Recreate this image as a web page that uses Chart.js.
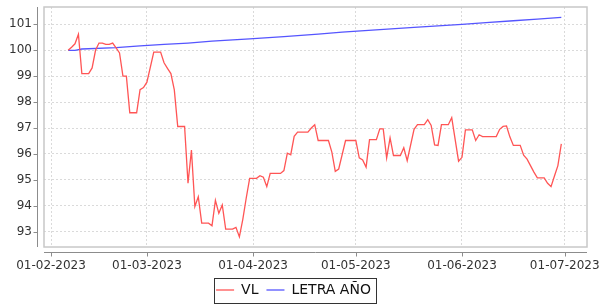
<!DOCTYPE html>
<html>
<head>
<meta charset="utf-8">
<script src="https://cdn.jsdelivr.net/npm/chart.js@4.4.0/dist/chart.umd.min.js"></script>
<style>
  html, body { margin: 0; padding: 0; background: #fff; }
</style>
</head>
<body>
<canvas id="navChart" width="601" height="305"></canvas>
<script>
// VL series: vertices (weekend values repeat)
const vlDates = [
  '2023-02-06', '2023-02-07', '2023-02-08', '2023-02-09', '2023-02-10', '2023-02-12', '2023-02-13',
  '2023-02-14', '2023-02-15', '2023-02-16', '2023-02-17', '2023-02-18', '2023-02-19', '2023-02-20',
  '2023-02-21', '2023-02-22', '2023-02-23', '2023-02-24', '2023-02-26', '2023-02-27', '2023-02-28',
  '2023-03-01', '2023-03-03', '2023-03-05', '2023-03-06', '2023-03-07', '2023-03-08', '2023-03-09',
  '2023-03-10', '2023-03-12', '2023-03-13', '2023-03-14', '2023-03-15', '2023-03-16', '2023-03-17',
  '2023-03-19', '2023-03-20', '2023-03-21', '2023-03-22', '2023-03-23', '2023-03-24', '2023-03-26',
  '2023-03-27', '2023-03-28', '2023-03-29', '2023-03-30', '2023-03-31', '2023-04-02', '2023-04-03',
  '2023-04-04', '2023-04-05', '2023-04-06', '2023-04-09', '2023-04-10', '2023-04-11', '2023-04-12',
  '2023-04-13', '2023-04-14', '2023-04-17', '2023-04-18', '2023-04-19', '2023-04-20', '2023-04-23',
  '2023-04-24', '2023-04-25', '2023-04-26', '2023-04-28', '2023-05-01', '2023-05-02', '2023-05-03',
  '2023-05-04', '2023-05-05', '2023-05-07', '2023-05-08', '2023-05-09', '2023-05-10', '2023-05-11',
  '2023-05-12', '2023-05-14', '2023-05-15', '2023-05-16', '2023-05-18', '2023-05-19', '2023-05-21',
  '2023-05-22', '2023-05-23', '2023-05-24', '2023-05-25', '2023-05-26', '2023-05-28', '2023-05-29',
  '2023-05-31', '2023-06-01', '2023-06-02', '2023-06-04', '2023-06-05', '2023-06-06', '2023-06-07',
  '2023-06-11', '2023-06-12', '2023-06-13', '2023-06-14', '2023-06-15', '2023-06-16', '2023-06-18',
  '2023-06-19', '2023-06-20', '2023-06-21', '2023-06-22', '2023-06-23', '2023-06-25', '2023-06-26',
  '2023-06-27', '2023-06-28', '2023-06-29', '2023-06-30'
];
const vlValues = [
  100.00, 100.12, 100.25, 100.62, 99.10, 99.10, 99.32,
  100.00, 100.28, 100.28, 100.23, 100.23, 100.28, 100.09,
  99.90, 99.00, 99.00, 97.59, 97.59, 98.48, 98.56,
  98.77, 99.93, 99.93, 99.52, 99.30, 99.10, 98.47,
  97.06, 97.06, 94.87, 96.15, 93.97, 94.35, 93.33,
  93.33, 93.23, 94.21, 93.71, 94.03, 93.10, 93.10,
  93.17, 92.80, 93.48, 94.30, 95.06, 95.06, 95.16,
  95.10, 94.74, 95.25, 95.25, 95.36, 96.03, 95.97,
  96.68, 96.84, 96.84, 97.00, 97.13, 96.52, 96.52,
  96.07, 95.33, 95.42, 96.52, 96.52, 95.85, 95.77,
  95.49, 96.55, 96.55, 96.97, 96.97, 95.85, 96.62,
  95.94, 95.94, 96.24, 95.74, 96.95, 97.13, 97.13,
  97.32, 97.10, 96.35, 96.33, 97.13, 97.13, 97.40,
  95.72, 95.87, 96.93, 96.93, 96.52, 96.74, 96.67,
  96.67, 96.95, 97.06, 97.08, 96.65, 96.33, 96.33,
  95.95, 95.80, 95.55, 95.30, 95.08, 95.08, 94.87,
  94.74, 95.15, 95.55, 96.39
];

// LETRA AÑO series
const letraDates = [
  '2023-02-06', '2023-02-08', '2023-02-10', '2023-02-20', '2023-02-27', '2023-03-06', '2023-03-13',
  '2023-03-20', '2023-03-31', '2023-04-10', '2023-04-20', '2023-04-27', '2023-05-08', '2023-05-18',
  '2023-06-01', '2023-06-08', '2023-06-16', '2023-06-23', '2023-06-30'
];
const letraValues = [
  100.00, 100.00, 100.05, 100.10, 100.17, 100.23, 100.28,
  100.35, 100.44, 100.53, 100.62, 100.70, 100.80, 100.88,
  101.00, 101.07, 101.14, 101.20, 101.27
];

const xTickDates = ['2023-02-01', '2023-03-01', '2023-04-01', '2023-05-01', '2023-06-01', '2023-07-01'];
const yTickValues = [93, 94, 95, 96, 97, 98, 99, 100, 101];

const DAY = 864e5;
function toDay(s) {
  const p = s.split('-').map(Number);
  return Date.UTC(p[0], p[1] - 1, p[2]) / DAY;
}
function fmtDay(v) {
  const d = new Date(Math.round(v) * DAY);
  const pad = n => String(n).padStart(2, '0');
  return pad(d.getUTCDate()) + '-' + pad(d.getUTCMonth() + 1) + '-' + d.getUTCFullYear();
}
const toPoints = (dates, values) => dates.map((s, i) => ({ x: toDay(s), y: values[i] }));

Chart.defaults.font.family = '"DejaVu Sans", sans-serif';
Chart.defaults.font.size = 12;

// plot outline, offset axis lines, tick marks and the legend frame
const frame = {
  id: 'frame',
  afterDraw(chart) {
    const ctx = chart.ctx;
    const a = chart.chartArea;
    const xs = chart.scales.x, ys = chart.scales.y;
    ctx.save();
    ctx.strokeStyle = '#c8c8c8';
    ctx.lineWidth = 1.5;
    ctx.strokeRect(a.left, a.top, a.right - a.left, a.bottom - a.top);

    ctx.strokeStyle = '#8c8c8c';
    ctx.lineWidth = 1;
    const axX = a.left - 6.5, axY = a.bottom + 5.5;
    ctx.beginPath();
    ctx.moveTo(axX, a.top); ctx.lineTo(axX, a.bottom);
    ys.ticks.forEach(t => {
      const py = Math.round(ys.getPixelForValue(t.value)) + 0.5;
      ctx.moveTo(axX, py); ctx.lineTo(axX - 4, py);
    });
    ctx.moveTo(a.left, axY); ctx.lineTo(a.right, axY);
    xs.ticks.forEach(t => {
      const px = Math.round(xs.getPixelForValue(t.value)) + 0.5;
      ctx.moveTo(px, axY); ctx.lineTo(px, axY + 4);
    });
    ctx.stroke();

    const boxes = chart.legend.legendHitBoxes;
    if (boxes && boxes.length) {
      const l = Math.min(...boxes.map(b => b.left)) - 2;
      const r = Math.max(...boxes.map(b => b.left + b.width)) + 5;
      const t = Math.min(...boxes.map(b => b.top)) - 5;
      const btm = Math.max(...boxes.map(b => b.top + b.height)) + 6;
      ctx.strokeStyle = '#333';
      ctx.lineWidth = 1;
      ctx.strokeRect(Math.round(l) + 0.5, Math.round(t) + 0.5, Math.round(r - l), Math.round(btm - t));
    }
    ctx.restore();
  }
};

const gridStyle = {
  color: '#dadada',
  lineWidth: 1,
  drawTicks: true,
  tickColor: 'rgba(0,0,0,0)',
  tickLength: 12
};

new Chart(document.getElementById('navChart').getContext('2d'), {
  type: 'line',
  data: {
    datasets: [
      {
        label: 'VL',
        data: toPoints(vlDates, vlValues),
        borderColor: '#ff5555',
        backgroundColor: '#ff5555',
        borderWidth: 1.3,
        pointRadius: 0,
        pointHoverRadius: 0,
        tension: 0
      },
      {
        label: 'LETRA AÑO',
        data: toPoints(letraDates, letraValues),
        borderColor: '#5555ff',
        backgroundColor: '#5555ff',
        borderWidth: 1.3,
        pointRadius: 0,
        pointHoverRadius: 0,
        tension: 0
      }
    ]
  },
  options: {
    responsive: false,
    animation: false,
    layout: { padding: { left: 0, right: 14, top: 7, bottom: -2 } },
    scales: {
      x: {
        type: 'linear',
        min: toDay('2023-02-01') - 2.05,
        max: toDay('2023-02-01') + 156.5,
        afterBuildTicks: s => { s.ticks = xTickDates.map(d => ({ value: toDay(d) })); },
        afterFit: s => { s.height = 28; },
        grid: Object.assign({}, gridStyle, { tickLength: 13 }),
        border: { display: false, dash: [2, 2] },
        ticks: {
          color: '#333',
          padding: 0,
          maxRotation: 0,
          autoSkip: false,
          font: { lineHeight: 1 },
          callback: v => fmtDay(v)
        }
      },
      y: {
        min: 92.41,
        max: 101.67,
        afterBuildTicks: s => { s.ticks = yTickValues.map(v => ({ value: v })); },
        afterFit: s => { s.width = 44; },
        grid: gridStyle,
        border: { display: false, dash: [2, 2] },
        ticks: { color: '#333', padding: 0, font: { lineHeight: 1 } }
      }
    },
    plugins: {
      tooltip: { enabled: false },
      legend: {
        position: 'bottom',
        labels: {
          usePointStyle: true,
          pointStyle: 'line',
          pointStyleWidth: 18,
          color: '#111',
          font: { size: 14, lineHeight: 1 },
          padding: 8
        }
      }
    }
  },
  plugins: [frame]
});
</script>
</body>
</html>
